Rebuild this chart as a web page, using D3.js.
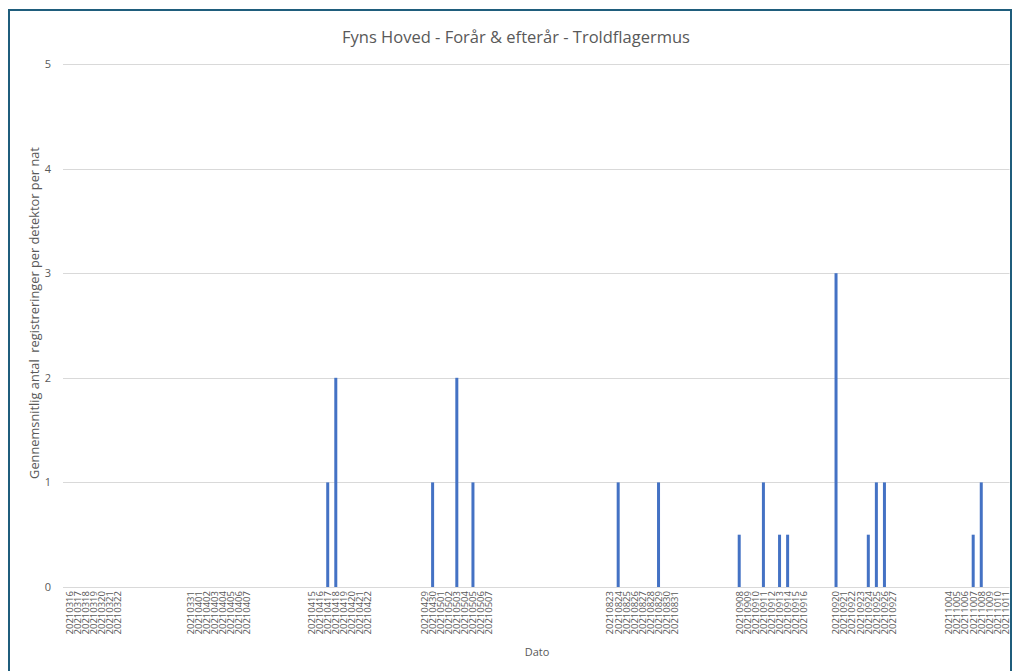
<!DOCTYPE html>
<html>
<head>
<meta charset="utf-8">
<script src="https://cdn.jsdelivr.net/npm/d3@7"></script>
<style>
  html, body { margin: 0; padding: 0; background: #ffffff; }
  svg { display: block; }
</style>
</head>
<body>
<svg id="chart" width="1014" height="671"></svg>
<script>
// Night dates (blank entries are days without a detector night in the sheet)
const categories = [
  "20210316","20210317","20210318","20210319","20210320","20210321","20210322",
  "","","","","","","","",
  "20210331","20210401","20210402","20210403","20210404","20210405","20210406","20210407",
  "","","","","","","",
  "20210415","20210416","20210417","20210418","20210419","20210420","20210421","20210422",
  "","","","","","",
  "20210429","20210430","20210501","20210502","20210503","20210504","20210505","20210506","20210507",
  "","","","","","","","","","","","","","",
  "20210823","20210824","20210825","20210826","20210827","20210828","20210829","20210830","20210831",
  "","","","","","","",
  "20210908","20210909","20210910","20210911","20210912","20210913","20210914","20210915","20210916",
  "","","",
  "20210920","20210921","20210922","20210923","20210924","20210925","20210926","20210927",
  "","","","","","",
  "20211004","20211005","20211006","20211007","20211008","20211009","20211010","20211011"
];

// Average registrations per detector per night, one entry per category
const values = [
  0,0,0,0,0,0,0,
  null,null,null,null,null,null,null,null,
  0,0,0,0,0,0,0,0,
  null,null,null,null,null,null,null,
  0,0,1,2,0,0,0,0,
  null,null,null,null,null,null,
  0,1,0,0,2,0,1,0,0,
  null,null,null,null,null,null,null,null,null,null,null,null,null,null,
  0,1,0,0,0,0,1,0,0,
  null,null,null,null,null,null,null,
  0.5,0,0,1,0,0.5,0.5,0,0,
  null,null,null,
  3,0,0,0,0.5,1,1,0,
  null,null,null,null,null,null,
  0,0,0,0.5,1,0,0,0
];

const yTicks = [0, 1, 2, 3, 4, 5];

const titleText = "Fyns Hoved - Forår & efterår - Troldflagermus";
const yTitleText = "Gennemsnitlig antal  registreringer per detektor per nat";
const xTitleText = "Dato";

const svg = d3.select("#chart");
const plot = { left: 65.5, right: 1009.5, top: 64, bottom: 587 };
const textGray = "#595959";
const font = "'Open Sans', 'Noto Sans', sans-serif";

// Outer frame of the chart object
svg.append("rect")
  .attr("x", 9).attr("y", 10)
  .attr("width", 1002).attr("height", 700)
  .attr("fill", "#ffffff")
  .attr("stroke", "#1f5d7c")
  .attr("stroke-width", 2);

const x = d3.scaleBand()
  .domain(d3.range(categories.length))
  .range([plot.left, plot.right])
  .paddingInner(0).paddingOuter(0);

const y = d3.scaleLinear()
  .domain([0, 5])
  .range([plot.bottom, plot.top]);

// Horizontal gridlines
svg.append("g")
  .selectAll("line")
  .data(yTicks)
  .join("line")
  .attr("x1", 63).attr("x2", plot.right)
  .attr("y1", d => Math.round(y(d)) + 0.5)
  .attr("y2", d => Math.round(y(d)) + 0.5)
  .attr("stroke", "#d9d9d9")
  .attr("stroke-width", 1);

// Y axis tick labels
const yAxis = d3.axisLeft(y).tickValues(yTicks).tickSize(0).tickPadding(0).tickFormat(d3.format("d"));
const gy = svg.append("g")
  .attr("transform", `translate(${51},0)`)
  .call(yAxis);
gy.select(".domain").remove();
gy.selectAll("text")
  .attr("fill", textGray)
  .style("font-family", font)
  .style("font-size", "11px");

// Bars
const barW = 3;
svg.append("g")
  .selectAll("rect")
  .data(values.map((v, i) => ({ i, v })).filter(d => d.v != null && d.v > 0))
  .join("rect")
  .attr("x", d => x(d.i) + x.bandwidth() / 2 - barW / 2)
  .attr("width", barW)
  .attr("y", d => y(d.v))
  .attr("height", d => y(0) - y(d.v))
  .attr("fill", "#4472c4");

// X axis category labels, rotated
const xAxis = d3.axisBottom(x).tickSize(0).tickPadding(0).tickFormat(i => categories[i]);
const gx = svg.append("g")
  .attr("transform", `translate(0,${plot.bottom})`)
  .call(xAxis);
gx.select(".domain").remove();
gx.selectAll(".tick text")
  .attr("transform", "rotate(-90)")
  .attr("x", -4)
  .attr("y", 0)
  .attr("dy", "0.35em")
  .attr("text-anchor", "end")
  .attr("fill", textGray)
  .style("font-family", font)
  .style("font-size", "9.5px");

// Titles
svg.append("text")
  .attr("x", 516).attr("y", 43)
  .attr("text-anchor", "middle")
  .attr("fill", textGray)
  .style("font-family", font)
  .style("font-size", "16.5px")
  .text(titleText);

svg.append("text")
  .attr("transform", `translate(39,${313}) rotate(-90)`)
  .attr("text-anchor", "middle")
  .attr("fill", textGray)
  .style("font-family", font)
  .style("font-size", "12.8px")
  .style("white-space", "pre")
  .text(yTitleText);

svg.append("text")
  .attr("x", 537).attr("y", 656)
  .attr("text-anchor", "middle")
  .attr("fill", textGray)
  .style("font-family", font)
  .style("font-size", "11px")
  .text(xTitleText);
</script>
</body>
</html>
